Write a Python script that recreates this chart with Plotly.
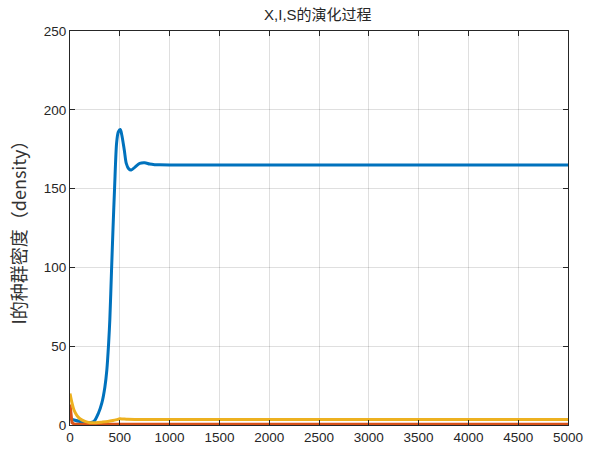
import plotly.graph_objects as go

# ---- data ----
t_x = [0, 50, 100, 150, 200, 240, 286, 320, 350, 370, 387, 400, 417, 432, 448, 468,
       485, 505, 520, 545, 565, 590, 615, 650, 700, 750, 800, 850, 900, 1000,
       2000, 3000, 4000, 5000]
x_vals = [4, 3, 2.2, 1.6, 1.4, 2.2, 7.6, 14, 24, 35, 51, 67, 98, 125, 151, 179,
          186, 187.5, 184, 174.5, 166, 162.5, 161.8, 163.5, 166, 166.4, 165.6, 165.2, 165.1, 165,
          165, 165, 165, 165]

t_i = [0, 5, 10, 20, 40, 100, 1000, 5000]
i_vals = [13, 10, 5, 1.5, 0.6, 0.4, 0.4, 0.4]

t_s = [0, 20, 40, 70, 100, 150, 200, 260, 320, 380, 430, 470, 500, 530, 580, 650,
       1000, 5000]
s_vals = [20, 14, 9.5, 6, 4, 2.3, 1.5, 1.5, 1.8, 2.2, 2.8, 3.4, 3.9, 3.8, 3.6, 3.5,
          3.5, 3.5]

x_ticks = list(range(0, 5001, 500))
y_ticks = list(range(0, 251, 50))

title_text = "X,I,S的演化过程"
ylabel_text = "I的种群密度（density）"

fig = go.Figure()
fig.add_trace(go.Scatter(x=t_x, y=x_vals, mode="lines",
                         line=dict(color="#0072BD", width=3, shape="spline", smoothing=0.8),
                         name="X"))
fig.add_trace(go.Scatter(x=t_i, y=i_vals, mode="lines",
                         line=dict(color="#D95319", width=3),
                         name="I"))
fig.add_trace(go.Scatter(x=t_s, y=s_vals, mode="lines",
                         line=dict(color="#EDB120", width=3, shape="spline", smoothing=0.8),
                         name="S"))

font_fam = "Liberation Sans, Arial, Noto Sans CJK SC, sans-serif"
axis_common = dict(showline=True, linecolor="#262626", linewidth=1, mirror="ticks",
                   ticks="inside", ticklen=5, tickcolor="#262626",
                   showgrid=True, gridcolor="rgba(38,38,38,0.15)", gridwidth=1,
                   zeroline=False, automargin=False,
                   tickfont=dict(size=13.5, color="#262626", family=font_fam))

fig.update_xaxes(range=[0, 5000], tickvals=x_ticks, **axis_common)
fig.update_yaxes(range=[0, 250], tickvals=y_ticks,
                 title=dict(text=ylabel_text, font=dict(size=18, color="#333333",
                                                         family="Noto Sans CJK SC, sans-serif"),
                            standoff=12),
                 **axis_common)

fig.update_layout(
    width=593, height=450,
    margin=dict(l=70, r=25, t=31, b=25),
    paper_bgcolor="white", plot_bgcolor="white",
    showlegend=False,
    hovermode=False,
    title=dict(text=title_text, x=0.536, xanchor="center", y=0.967, yanchor="middle",
               font=dict(size=15, color="#262626", family="Liberation Sans, Noto Sans CJK SC, sans-serif")),
    font=dict(family=font_fam),
)

fig.write_html("out.html",
               config={"displayModeBar": False},
               post_script="document.body.style.margin='0';document.body.style.overflow='hidden';")
